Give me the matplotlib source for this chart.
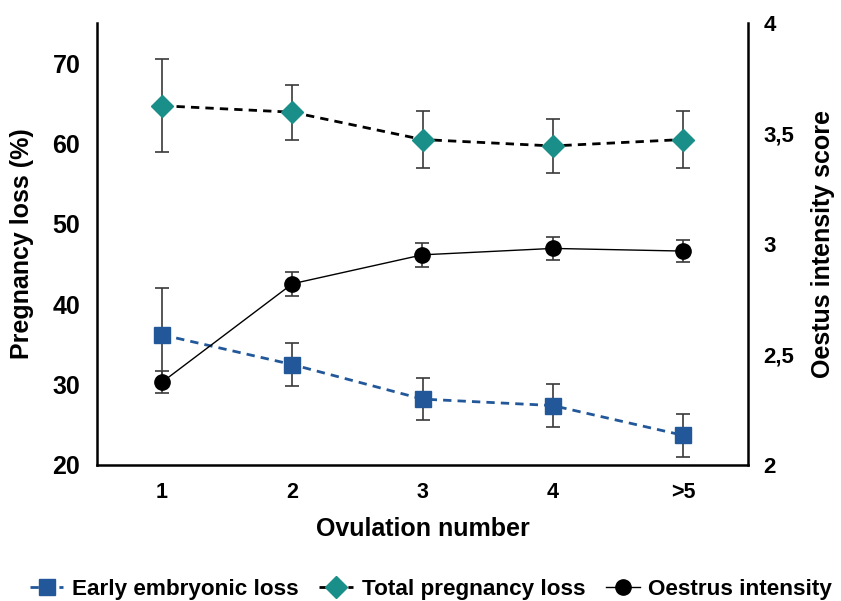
import matplotlib
matplotlib.use("Agg")
import matplotlib.pyplot as plt
from matplotlib.legend_handler import HandlerLine2D

plt.rcParams['font.family'] = ['Liberation Sans', 'DejaVu Sans']
plt.rcParams['font.weight'] = 'bold'

# data
groups = ['1', '2', '3', '4', '>5']
early_loss = [36.2, 32.5, 28.2, 27.4, 23.7]
early_err = [5.8, 2.7, 2.65, 2.65, 2.65]
total_loss = [64.7, 63.9, 60.5, 59.7, 60.5]
total_err = [5.8, 3.4, 3.5, 3.4, 3.5]
oestrus = [2.375, 2.82, 2.951, 2.98, 2.968]
oestrus_err = [0.05, 0.055, 0.053, 0.052, 0.05]

blue = '#22589A'
teal = '#1A8E88'
errc = '#3a3a3a'


class MarkerAtEnd(HandlerLine2D):
    # put the marker at the right end of the legend line
    def get_xdata(self, legend, xdescent, ydescent, width, height, fontsize):
        xdata, xm = super().get_xdata(legend, xdescent, ydescent, width, height, fontsize)
        return xdata, [xdata[-1] - 4]


x = list(range(1, len(groups) + 1))

fig = plt.figure(figsize=(8.41, 6.01), dpi=100)
ax = fig.add_axes([97/841, 1 - 465/601, (748 - 97)/841, (465 - 23)/601])
ax2 = ax.twinx()

ax.errorbar(x, total_loss, yerr=total_err, fmt='none', ecolor=errc, elinewidth=1.2, capsize=5, capthick=1.2, zorder=2)
l_total, = ax.plot(x, total_loss, ls=(0, (3, 2.2)), color='black', lw=2, marker='D', ms=11,
                   mfc=teal, mec=teal, label='Total pregnancy loss', zorder=3)
ax.errorbar(x, early_loss, yerr=early_err, fmt='none', ecolor=errc, elinewidth=1.2, capsize=5, capthick=1.2, zorder=2)
l_early, = ax.plot(x, early_loss, ls=(0, (3, 2.2)), color=blue, lw=2, marker='s', ms=12,
                   mfc=blue, mec=blue, label='Early embryonic loss', zorder=3)

ax2.errorbar(x, oestrus, yerr=oestrus_err, fmt='none', ecolor=errc, elinewidth=1.2, capsize=5, capthick=1.2, zorder=2)
l_oe, = ax2.plot(x, oestrus, ls='-', color='black', lw=1, marker='o', ms=11,
                 mfc='black', mec='black', label='Oestrus intensity', zorder=3)

ax.set_xlim(0.5, 5.5)
ax.set_ylim(20, 75)
ax2.set_ylim(2, 4)
ax.set_xticks(x)
ax.set_xticklabels(groups, fontsize=15.5, fontweight='bold')
ax.set_yticks([20, 30, 40, 50, 60, 70])
ax.set_yticklabels(['20', '30', '40', '50', '60', '70'], fontsize=18, fontweight='bold')
ax2.set_yticks([2, 2.5, 3, 3.5, 4])
ax2.set_yticklabels(['2', '2,5', '3', '3,5', '4'], fontsize=16, fontweight='bold')

ax.tick_params(axis='both', length=0, pad=12)
ax2.tick_params(axis='y', length=0, pad=11)

for a in (ax, ax2):
    a.spines['top'].set_visible(False)
    for s in ('left', 'right', 'bottom'):
        a.spines[s].set_linewidth(1.8)
ax2.spines['left'].set_visible(False)
ax2.spines['bottom'].set_visible(False)
ax.spines['right'].set_visible(False)

ax.set_xlabel('Ovulation number', fontsize=18, fontweight='bold', labelpad=10)
ax.set_ylabel('Pregnancy loss (%)', fontsize=18, fontweight='bold', labelpad=13)
ax2.set_ylabel('Oestus intensity score', fontsize=18, fontweight='bold', labelpad=12)

fig.legend([l_early, l_total, l_oe], ['Early embryonic loss', 'Total pregnancy loss', 'Oestrus intensity'],
           loc='center', bbox_to_anchor=(431/841, 1 - 589/601), ncol=3, frameon=False,
           handlelength=1.5, handletextpad=0.4, columnspacing=0.9, borderaxespad=0, borderpad=0,
           handler_map={l_early: MarkerAtEnd(numpoints=1), l_total: MarkerAtEnd(numpoints=1),
                        l_oe: HandlerLine2D(numpoints=1)},
           prop={'weight': 'bold', 'size': 16.2})

fig.savefig('out.png', dpi=100)
